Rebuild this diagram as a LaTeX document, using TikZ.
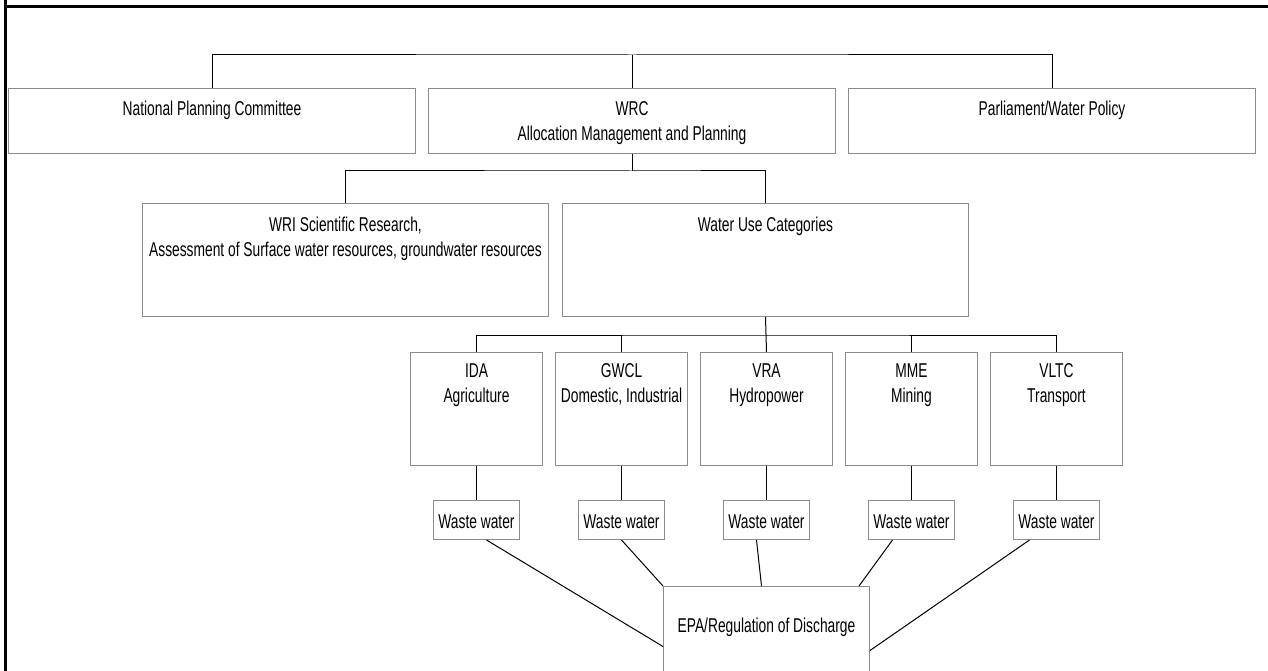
\documentclass[tikz,border=0pt]{standalone}
\usepackage{fontspec}
\setmainfont{Liberation Sans}[FakeStretch=0.69]
\usepackage{tikz}
\usetikzlibrary{positioning}
\usepackage{xcolor}
\definecolor{boxgray}{RGB}{140,140,140}

\tikzset{
  box/.style={rectangle, draw=boxgray, line width=1pt, anchor=north west, inner sep=0pt, align=flush center, execute at begin node={\spaceskip=0pt\relax}},
  topbox/.style={box, text width=407pt, minimum width=407pt, text height=27.5pt, text depth=37.5pt},
  midbox/.style={box, text width=406pt, minimum width=406pt, text height=28pt, text depth=85pt},
  usebox/.style={box, text width=132pt, minimum width=132pt, text height=25pt, text depth=88pt},
  wastebox/.style={box, text width=86pt, minimum width=86pt, text height=27.5pt, text depth=11.5pt},
  link/.style={draw=black, line width=1pt}
}

\begin{document}
\begin{tikzpicture}[x=1pt, y=-1pt, font=\fontsize{20}{25}\selectfont]
\useasboundingbox (0,0) rectangle (1268,671);
%

%%% frame
\draw [line width=3pt] (5,0) -- (5,671);
\draw [line width=3pt] (3.5,6.5) -- (1268,6.5);

%%% TOP ROW
\node [topbox] (npc) at (8,88) {National Planning Committee};
\node [topbox, right=12pt of npc] (wrc) {WRC\\Allocation Management and Planning};
\node [topbox, right=12pt of wrc] (parl) {Parliament/Water Policy};

%%% SECOND ROW
\node [midbox] (wri) at (142,203) {WRI Scientific Research,\\Assessment of Surface water resources, groundwater resources};
\node [midbox, right=13pt of wri] (wuc) {Water Use Categories};

%%% WATER USERS
\node [usebox] (ida) at (410,352) {IDA\\Agriculture};
\node [usebox, right=12pt of ida] (gwcl) {GWCL\\Domestic, Industrial};
\node [usebox, right=12pt of gwcl] (vra) {VRA\\Hydropower};
\node [usebox, right=12pt of vra] (mme) {MME\\Mining};
\node [usebox, right=12pt of mme] (vltc) {VLTC\\Transport};

%%% WASTE WATER
\node [wastebox, below=34pt of ida] (ww-ida) {Waste water};
\node [wastebox, below=34pt of gwcl] (ww-gwcl) {Waste water};
\node [wastebox, below=34pt of vra] (ww-vra) {Waste water};
\node [wastebox, below=34pt of mme] (ww-mme) {Waste water};
\node [wastebox, below=34pt of vltc] (ww-vltc) {Waste water};

%%% EPA
\node [box, text width=206pt, minimum width=206pt, text height=46pt, text depth=74pt, below=46pt of ww-vra] (epa) {EPA/Regulation of Discharge};

%%% connections
\coordinate (topbus) at ([yshift=33pt]wrc.north);
\coordinate (midbus) at ([yshift=-17pt]wrc.south);
\coordinate (usebus) at ([yshift=-18pt]wuc.south);

\draw [link] (npc.north) |- (topbus) -| (parl.north);
\draw [link] (wrc.north) -- (topbus);
\draw [link] (wri.north) |- (midbus) -| (wuc.north);
\draw [link] (wrc.south) -- (midbus);
\draw [link] (ida.north) |- (usebus) -| (vltc.north);
\draw [link] (wuc.south) -- (vra.north);
\draw [link] (gwcl.north) -- (gwcl.north |- usebus);
\draw [link] (mme.north) -- (mme.north |- usebus);

\draw [link] (ida.south) -- (ww-ida.north);
\draw [link] (gwcl.south) -- (ww-gwcl.north);
\draw [link] (vra.south) -- (ww-vra.north);
\draw [link] (mme.south) -- (ww-mme.north);
\draw [link] (vltc.south) -- (ww-vltc.north);

\draw [link] ([xshift=10pt]ww-ida.south) -- (epa.west);
\draw [link] (ww-gwcl.south) -- (epa.north west);
\draw [link] ([xshift=-10pt]ww-vra.south) -- ([xshift=-5pt]epa.north);
\draw [link] ([xshift=-19pt]ww-mme.south) -- ([xshift=-11pt]epa.north east);
\draw [link] ([xshift=-27pt]ww-vltc.south) -- ([yshift=-4pt]epa.east);

\end{tikzpicture}
\end{document}
